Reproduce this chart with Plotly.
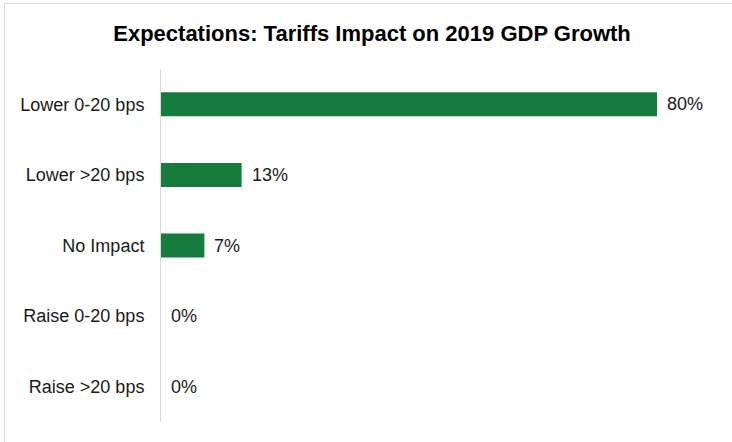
import plotly.graph_objects as go

# Survey responses: expected tariff impact on 2019 GDP growth
categories = ["Lower 0-20 bps", "Lower >20 bps", "No Impact", "Raise 0-20 bps", "Raise >20 bps"]
shares = [80, 13, 7, 0, 0]

W, H = 732, 442
ML, MR, MT, MB = 161, 13, 69, 20
plot_w = W - ML - MR
plot_h = H - MT - MB

BAR_COLOR = "#167c3e"
TEXT_COLOR = "#1a1a1a"
FONT = "Liberation Sans, Arial, sans-serif"

fig = go.Figure(
    go.Bar(
        y=categories,
        x=shares,
        orientation="h",
        marker=dict(color=BAR_COLOR, line=dict(width=0)),
        hoverinfo="skip",
    )
)

# value labels to the right of each bar
for cat, val in zip(categories, shares):
    fig.add_annotation(
        x=val, y=cat, xref="x", yref="y",
        text=f"{val}%", showarrow=False,
        xanchor="left", yanchor="middle", xshift=8,
        font=dict(family=FONT, size=18, color=TEXT_COLOR),
    )

# light frame around the chart area (top and left edges visible)
def px_to_paper_x(px):
    return (px - ML) / plot_w

def px_to_paper_y(py):
    return (H - MB - py) / plot_h

fig.add_shape(
    type="rect", xref="paper", yref="paper",
    x0=px_to_paper_x(4.5), x1=px_to_paper_x(W + 10),
    y0=px_to_paper_y(H + 10), y1=px_to_paper_y(3.5),
    line=dict(color="#d9d9d9", width=1), fillcolor="rgba(0,0,0,0)",
    layer="below",
)

fig.update_layout(
    width=W, height=H,
    margin=dict(l=ML, r=MR, t=MT, b=MB),
    paper_bgcolor="white", plot_bgcolor="white",
    bargap=0.66,
    showlegend=False,
    title=dict(
        text="<b>Expectations: Tariffs Impact on 2019 GDP Growth</b>",
        x=372 / W, xanchor="center", y=1 - 33 / H, yanchor="middle",
        font=dict(family=FONT, size=22, color="#000000"),
    ),
    xaxis=dict(
        range=[0, 90], visible=False, fixedrange=True,
    ),
    yaxis=dict(
        categoryorder="array", categoryarray=categories,
        autorange="reversed",
        showline=True, linecolor="#d9d9d9", linewidth=1,
        showgrid=False, zeroline=False, ticks="",
        ticklabelstandoff=12,
        tickfont=dict(family=FONT, size=18, color=TEXT_COLOR),
    ),
    font=dict(family=FONT),
)

fig.write_html("out.html")
